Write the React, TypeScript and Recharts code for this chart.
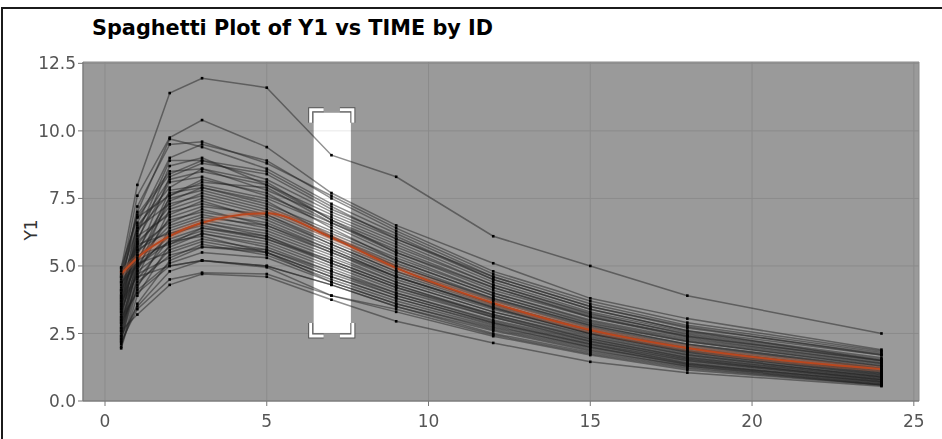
import { ComposedChart, Line, XAxis, YAxis, CartesianGrid, ReferenceArea } from "recharts";

// sampling times (hours) shared by every ID
const TIMES = [0.5, 1, 2, 3, 5, 7, 9, 12, 15, 18, 24];

// Y1 per ID, one array per subject, in TIMES order
const ID_VALUES: number[][] = [
  [4.9, 8.0, 11.4, 11.95, 11.6, 9.1, 8.3, 6.1, 5.0, 3.9, 2.5],
  [4.6, 7.6, 9.75, 10.4, 9.4, 7.7, 6.5, 5.1, 3.8, 3.05, 1.9],
  [4.2, 7.2, 9.5, 9.6, 8.8, 7.6, 6.4, 4.8, 3.7, 2.9, 1.85],
  [3.9, 6.6, 9.0, 9.5, 8.9, 7.5, 6.3, 4.7, 3.6, 2.8, 1.8],
  [4.5, 7.0, 9.7, 9.4, 8.6, 7.3, 6.2, 4.6, 3.5, 2.7, 1.75],
  [3.3, 6.2, 8.9, 8.9, 8.2, 7.0, 6.0, 4.5, 3.4, 2.6, 1.7],
  [3.0, 5.9, 8.7, 9.0, 8.0, 6.9, 5.9, 4.4, 3.3, 2.55, 1.6],
  [4.8, 6.9, 8.5, 8.6, 7.8, 6.8, 5.8, 4.3, 3.2, 2.5, 1.55],
  [2.7, 5.4, 8.3, 8.8, 8.4, 7.1, 6.1, 4.5, 3.4, 2.6, 1.5],
  [3.6, 6.0, 8.1, 8.3, 7.6, 6.6, 5.6, 4.2, 3.1, 2.4, 1.5],
  [4.1, 6.5, 7.9, 8.6, 8.1, 6.7, 5.5, 4.1, 3.1, 2.35, 1.4],
  [2.4, 5.1, 7.8, 8.0, 7.5, 6.5, 5.4, 4.0, 3.0, 2.3, 1.4],
  [3.8, 6.3, 7.7, 7.9, 7.3, 6.3, 5.3, 4.0, 2.95, 2.25, 1.35],
  [4.4, 6.8, 7.6, 8.2, 7.7, 6.4, 5.2, 3.9, 2.9, 2.2, 1.3],
  [3.1, 5.6, 7.5, 7.8, 7.2, 6.2, 5.2, 3.9, 2.85, 2.2, 1.3],
  [2.9, 5.2, 7.4, 7.9, 7.4, 6.1, 5.0, 3.8, 2.8, 2.1, 1.25],
  [4.7, 6.4, 7.3, 7.6, 7.0, 6.0, 5.0, 3.75, 2.75, 2.05, 1.2],
  [3.4, 5.8, 7.2, 7.7, 7.1, 6.1, 5.1, 3.8, 2.8, 2.1, 1.2],
  [2.2, 4.6, 7.1, 7.5, 6.9, 5.9, 4.9, 3.7, 2.7, 2.0, 1.15],
  [3.7, 5.9, 7.0, 7.3, 6.8, 5.8, 4.8, 3.6, 2.65, 1.95, 1.1],
  [4.0, 6.1, 6.9, 7.4, 6.7, 5.7, 4.7, 3.55, 2.6, 1.9, 1.1],
  [2.6, 5.0, 6.8, 7.2, 6.9, 5.8, 4.8, 3.6, 2.6, 1.95, 1.05],
  [3.2, 5.5, 6.7, 7.0, 6.6, 5.6, 4.6, 3.5, 2.55, 1.85, 1.05],
  [4.3, 5.7, 6.6, 7.1, 6.5, 5.5, 4.6, 3.45, 2.5, 1.85, 1.0],
  [3.5, 5.3, 6.5, 6.9, 6.4, 5.5, 4.5, 3.4, 2.5, 1.8, 1.0],
  [2.0, 4.2, 6.4, 6.8, 6.5, 5.6, 4.6, 3.45, 2.5, 1.8, 0.95],
  [3.9, 5.6, 6.3, 6.7, 6.3, 5.4, 4.4, 3.3, 2.45, 1.75, 0.95],
  [2.8, 4.9, 6.2, 6.6, 6.2, 5.3, 4.4, 3.3, 2.4, 1.7, 0.9],
  [4.6, 5.8, 6.2, 6.5, 6.0, 5.1, 4.2, 3.2, 2.35, 1.7, 0.9],
  [3.3, 5.0, 6.1, 6.6, 6.1, 5.2, 4.3, 3.2, 2.3, 1.65, 0.9],
  [2.5, 4.5, 6.0, 6.4, 6.0, 5.2, 4.3, 3.15, 2.3, 1.6, 0.85],
  [3.6, 5.2, 5.9, 6.3, 5.9, 5.0, 4.1, 3.1, 2.25, 1.6, 0.85],
  [1.95, 3.9, 5.8, 6.4, 6.1, 5.1, 4.2, 3.1, 2.2, 1.55, 0.8],
  [4.1, 5.4, 5.8, 6.2, 5.8, 4.9, 4.0, 3.0, 2.2, 1.55, 0.8],
  [3.0, 4.8, 5.7, 6.2, 5.7, 4.8, 4.0, 2.95, 2.15, 1.5, 0.8],
  [2.3, 4.3, 5.6, 6.0, 5.6, 4.7, 3.9, 2.9, 2.1, 1.5, 0.75],
  [3.8, 5.1, 5.5, 5.9, 5.5, 4.6, 3.8, 2.85, 2.05, 1.45, 0.75],
  [2.7, 4.4, 5.4, 5.7, 5.6, 4.8, 3.9, 2.9, 2.1, 1.4, 0.7],
  [3.4, 4.7, 5.3, 5.8, 5.4, 4.5, 3.7, 2.75, 2.0, 1.4, 0.7],
  [2.1, 3.6, 5.2, 5.7, 5.5, 4.6, 3.8, 2.8, 2.0, 1.35, 0.7],
  [4.4, 5.0, 5.9, 6.1, 5.5, 4.4, 3.6, 2.7, 1.95, 1.35, 0.65],
  [2.9, 4.1, 5.1, 5.5, 5.3, 4.4, 3.6, 2.65, 1.9, 1.3, 0.65],
  [3.1, 4.0, 5.0, 5.2, 5.0, 4.3, 3.5, 2.6, 1.85, 1.3, 0.6],
  [2.4, 3.5, 4.8, 5.2, 5.0, 4.3, 3.5, 2.5, 1.8, 1.25, 0.6],
  [3.7, 4.6, 5.0, 5.2, 4.95, 3.9, 3.4, 2.45, 1.75, 1.2, 0.6],
  [2.2, 3.4, 4.5, 4.75, 4.7, 3.9, 3.3, 2.4, 1.7, 1.15, 0.58],
  [2.6, 3.2, 4.3, 4.7, 4.6, 3.75, 2.95, 2.15, 1.45, 1.05, 0.55],
  [4.95, 6.8, 8.4, 8.9, 8.5, 7.2, 6.0, 4.6, 3.5, 2.75, 1.7],
  [3.5, 6.4, 8.2, 8.5, 8.0, 6.7, 5.7, 4.3, 3.25, 2.45, 1.5],
  [2.3, 4.8, 7.6, 8.1, 7.9, 6.6, 5.5, 4.2, 3.15, 2.4, 1.45],
];

// smoothed trend (red), read at the same times
const SMOOTH = [4.7, 5.3, 6.1, 6.6, 6.95, 6.05, 4.93, 3.63, 2.63, 1.96, 1.18];

const X_TICKS = [0, 5, 10, 15, 20, 25];
const Y_TICKS = [0, 2.5, 5, 7.5, 10, 12.5];
const X_DOMAIN = [-0.68, 25.16];
const Y_DOMAIN = [0, 12.55];

// selected range around TIME 7
const SEL_X = [6.45, 7.6];
const SEL_Y = [2.52, 10.67];

const rows = TIMES.map((t, i) => {
  const row: Record<string, number> = { time: t, smooth: SMOOTH[i] };
  ID_VALUES.forEach((vals, j) => {
    row[`id${j + 1}`] = vals[i];
  });
  return row;
});

function SquareDot(p: any) {
  if (p.cx == null || p.cy == null) return null;
  return <rect key={`${p.dataKey}-${p.index}`} x={p.cx - 1.3} y={p.cy - 1.3} width={2.6} height={2.6} fill="#000" />;
}

// selection band: a colour-dodge rect lifts the grey panel to white while the
// lines underneath stay visible, plus corner handles outside the box
function SelectionShape(p: any) {
  const { x, y, width, height } = p;
  const a = 13;
  const l = x - 3;
  const r = x + width + 2;
  const t = y - 3;
  const b = y + height + 3;
  const corners = [
    `M${l},${t + a} L${l},${t} L${l + a},${t}`,
    `M${r - a},${t} L${r},${t} L${r},${t + a}`,
    `M${l},${b - a} L${l},${b} L${l + a},${b}`,
    `M${r - a},${b} L${r},${b} L${r},${b - a}`,
  ];
  return (
    <g>
      <rect x={x} y={y} width={width} height={height} fill="#666" style={{ mixBlendMode: "color-dodge" }} />
      {corners.map((d, i) => (
        <path key={"o" + i} d={d} fill="none" stroke="#555" strokeWidth={5} />
      ))}
      {corners.map((d, i) => (
        <path key={"i" + i} d={d} fill="none" stroke="#fff" strokeWidth={3} />
      ))}
    </g>
  );
}

const tickStyle = { fontSize: 17, fill: "#555", fontFamily: "DejaVu Sans" };

export default function App() {
  return (
    <div style={{ position: "absolute", left: 0, top: 0, width: 942, height: 439, background: "#fff", overflow: "hidden" }}>
      <div
        style={{
          position: "absolute",
          left: 1,
          top: 7,
          width: 980,
          height: 480,
          border: "2px solid #1b1b1b",
          boxSizing: "border-box",
        }}
      />
      <div
        style={{
          position: "absolute",
          left: 92,
          top: 16,
          fontFamily: "DejaVu Sans",
          fontWeight: "bold",
          fontSize: 20.8,
          color: "#000",
          whiteSpace: "nowrap",
        }}
      >
        Spaghetti Plot of Y1 vs TIME by ID
      </div>
      <div
        style={{
          position: "absolute",
          left: 31,
          top: 230,
          transform: "translate(-50%, -50%) rotate(-90deg)",
          fontFamily: "DejaVu Sans",
          fontSize: 17,
          color: "#333",
        }}
      >
        Y1
      </div>
      <div style={{ position: "absolute", left: 0, top: 0, isolation: "isolate" }}>
        <ComposedChart width={942} height={439} data={rows} margin={{ top: 62, right: 23, bottom: 0, left: 0 }}>
          <CartesianGrid fill="#9a9a9a" stroke="#8b8b8b" strokeWidth={1} />
          <XAxis
            dataKey="time"
            type="number"
            domain={X_DOMAIN}
            allowDataOverflow
            ticks={X_TICKS}
            height={38}
            tickSize={5}
            tickMargin={9}
            tick={tickStyle}
            stroke="#777"
          />
          <YAxis
            type="number"
            domain={Y_DOMAIN}
            allowDataOverflow
            ticks={Y_TICKS}
            width={83}
            tickSize={5}
            tickMargin={2}
            tick={tickStyle}
            tickFormatter={(v: number) => v.toFixed(1)}
            stroke="#777"
          />
          {ID_VALUES.map((_, j) => (
            <Line
              key={j}
              dataKey={`id${j + 1}`}
              type="linear"
              stroke="#222"
              strokeOpacity={0.5}
              strokeWidth={1.5}
              dot={SquareDot}
              activeDot={false}
              isAnimationActive={false}
            />
          ))}
          <Line
            dataKey="smooth"
            type="monotone"
            stroke="#d2643a"
            strokeOpacity={0.3}
            strokeWidth={6}
            dot={false}
            activeDot={false}
            isAnimationActive={false}
          />
          <Line
            dataKey="smooth"
            type="monotone"
            stroke="#b9471f"
            strokeWidth={2}
            dot={false}
            activeDot={false}
            isAnimationActive={false}
          />
          <ReferenceArea
            x1={SEL_X[0]}
            x2={SEL_X[1]}
            y1={SEL_Y[0]}
            y2={SEL_Y[1]}
            shape={SelectionShape}
            ifOverflow="visible"
          />
        </ComposedChart>
      </div>
    </div>
  );
}
